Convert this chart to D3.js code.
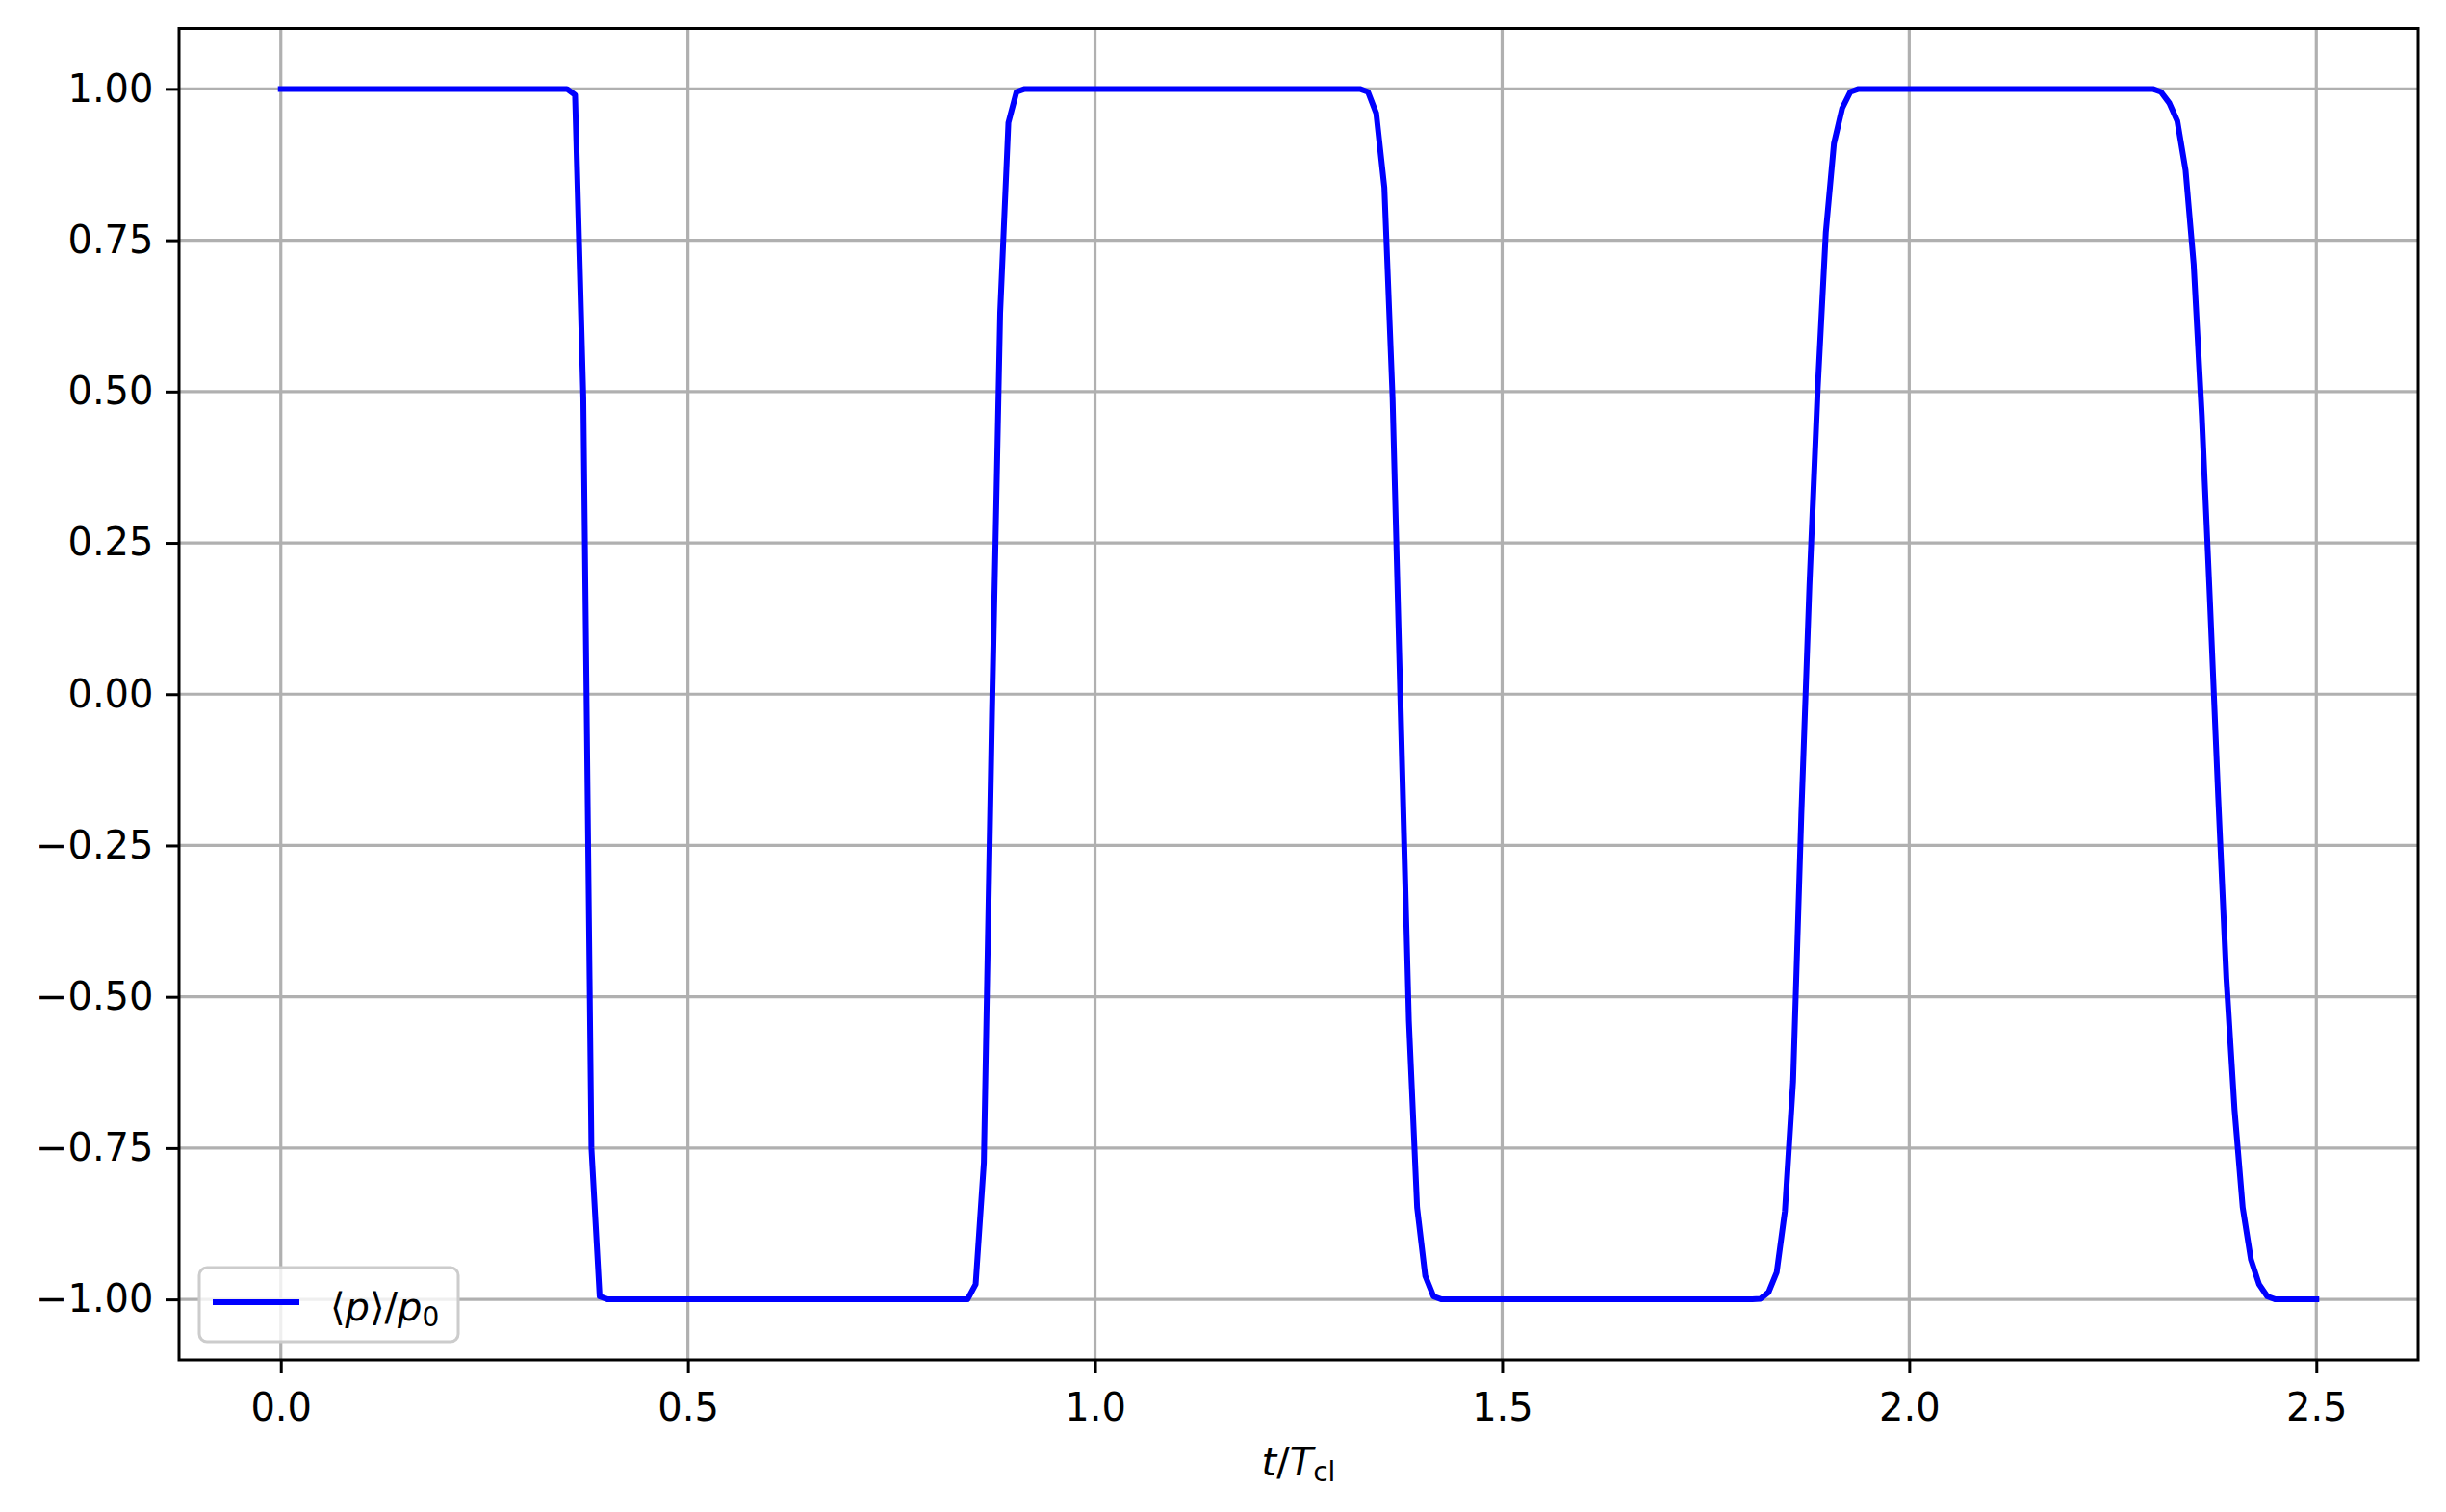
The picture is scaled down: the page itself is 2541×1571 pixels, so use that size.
<!DOCTYPE html>
<html>
<head>
<meta charset="utf-8">
<script src="https://cdn.jsdelivr.net/npm/d3@7"></script>
<style>
  body { margin: 0; background: #fff; }
  text { font-family: "DejaVu Sans", sans-serif; }
  .axis path, .axis line { stroke: #000; stroke-width: 3; }
  .axis text { font-size: 40px; fill: #000; }
</style>
</head>
<body>
<div id="canvas"></div>
<script>
// breakpoints of <p>/p0 vs t/T_cl (flat runs between them are straight)
var tVals = [
  0, 0.3514, 0.3614, 0.3715, 0.3815, 0.3916, 0.4016,
  0.8434, 0.8534, 0.8635, 0.8735, 0.8835, 0.8936, 0.9036, 0.9137,
  1.3253, 1.3353, 1.3454, 1.3554, 1.3655, 1.3755, 1.3855, 1.3956, 1.4056, 1.4157, 1.4257,
  1.8072, 1.8173, 1.8273, 1.8373, 1.8474, 1.8574, 1.8675, 1.8775, 1.8876, 1.8976, 1.9076, 1.9177, 1.9277, 1.9378,
  2.2992, 2.3092, 2.3193, 2.3293, 2.3394, 2.3494, 2.3594, 2.3695, 2.3795, 2.3896, 2.3996, 2.4096, 2.4197, 2.4297, 2.4398, 2.4498,
  2.5
];
var pVals = [
  1.0, 1.0, 0.99, 0.49, -0.75, -0.995, -1.0,
  -1.0, -0.975, -0.774, -0.03, 0.63, 0.944, 0.995, 1.0,
  1.0, 0.995, 0.96, 0.837, 0.489, -0.03, -0.54, -0.848, -0.961, -0.995, -1.0,
  -1.0, -0.999, -0.988, -0.955, -0.854, -0.64, -0.2, 0.18, 0.503, 0.763, 0.91, 0.968, 0.995, 1.0,
  1.0, 0.995, 0.977, 0.947, 0.866, 0.71, 0.46, 0.15, -0.17, -0.47, -0.687, -0.848, -0.934, -0.975, -0.995, -1.0,
  -1.0
];
var xTicks = [0, 0.5, 1.0, 1.5, 2.0, 2.5];
var yTicks = [-1.0, -0.75, -0.5, -0.25, 0, 0.25, 0.5, 0.75, 1.0];

var W = 2541, H = 1571;
var margin = { top: 29.5, right: 29, bottom: 158, left: 186 },
  width = W - margin.left - margin.right,
  height = H - margin.top - margin.bottom;

var svg = d3
  .select("#canvas")
  .append("svg")
  .attr("width", W)
  .attr("height", H)
  .append("g")
  .attr("transform", "translate(" + margin.left + "," + margin.top + ")");

var x = d3.scaleLinear().domain([-0.125, 2.625]).range([0, width]);
var y = d3.scaleLinear().domain([-1.1, 1.1]).range([height, 0]);

var minus = function(s) { return s.replace("-", "\u2212"); };

// grid
var grid = svg.append("g").attr("stroke", "#b0b0b0").attr("stroke-width", 3.2);
grid.selectAll(".gx").data(xTicks).enter().append("line")
  .attr("x1", function(d) { return x(d); })
  .attr("x2", function(d) { return x(d); })
  .attr("y1", 0).attr("y2", height);
grid.selectAll(".gy").data(yTicks).enter().append("line")
  .attr("x1", 0).attr("x2", width)
  .attr("y1", function(d) { return y(d); })
  .attr("y2", function(d) { return y(d); });

// the curve
var data = tVals.map(function(t, i) { return { t: t, p: pVals[i] }; });
svg.append("path")
  .datum(data)
  .attr("fill", "none")
  .attr("stroke", "#0000ff")
  .attr("stroke-width", 6)
  .attr("stroke-linejoin", "round")
  .attr("stroke-linecap", "square")
  .attr("d", d3.line()
    .x(function(d) { return x(d.t); })
    .y(function(d) { return y(d.p); }));

// axes
svg.append("g")
  .attr("class", "axis")
  .attr("transform", "translate(0," + height + ")")
  .call(d3.axisBottom(x).tickValues(xTicks).tickSize(14).tickPadding(20.5)
    .tickFormat(function(d) { return minus(d3.format(".1f")(d)); }))
  .call(function(g) { g.select(".domain").remove(); });

svg.append("g")
  .attr("class", "axis")
  .call(d3.axisLeft(y).tickValues(yTicks).tickSize(14).tickPadding(12.5)
    .tickFormat(function(d) { return minus(d3.format(".2f")(d)); }))
  .call(function(g) { g.select(".domain").remove(); });

// frame
svg.append("rect")
  .attr("width", width).attr("height", height)
  .attr("fill", "none").attr("stroke", "#000").attr("stroke-width", 3);

// x label
var xl = svg.append("text")
  .attr("x", width / 2)
  .attr("y", 1533 - margin.top)
  .attr("text-anchor", "middle")
  .attr("font-size", 40);
xl.append("tspan").attr("font-style", "italic").text("t");
xl.append("tspan").text("/");
xl.append("tspan").attr("font-style", "italic").text("T");
xl.append("tspan").attr("font-size", 28).attr("dy", 6).text("cl");

// legend
var lg = svg.append("g").attr("transform", "translate(" + (207 - margin.left) + "," + (1317 - margin.top) + ")");
lg.append("rect")
  .attr("width", 269).attr("height", 77).attr("rx", 8)
  .attr("fill", "#fff").attr("fill-opacity", 0.8)
  .attr("stroke", "#cccccc").attr("stroke-width", 3);
lg.append("line")
  .attr("x1", 14).attr("x2", 104).attr("y1", 36).attr("y2", 36)
  .attr("stroke", "#0000ff").attr("stroke-width", 6);
var lt = lg.append("text").attr("x", 136).attr("y", 55).attr("font-size", 40);
lt.append("tspan").text("\u27E8");
lt.append("tspan").attr("font-style", "italic").text("p");
lt.append("tspan").text("\u27E9/");
lt.append("tspan").attr("font-style", "italic").text("p");
lt.append("tspan").attr("font-size", 28).attr("dy", 6).text("0");
</script>
</body>
</html>
